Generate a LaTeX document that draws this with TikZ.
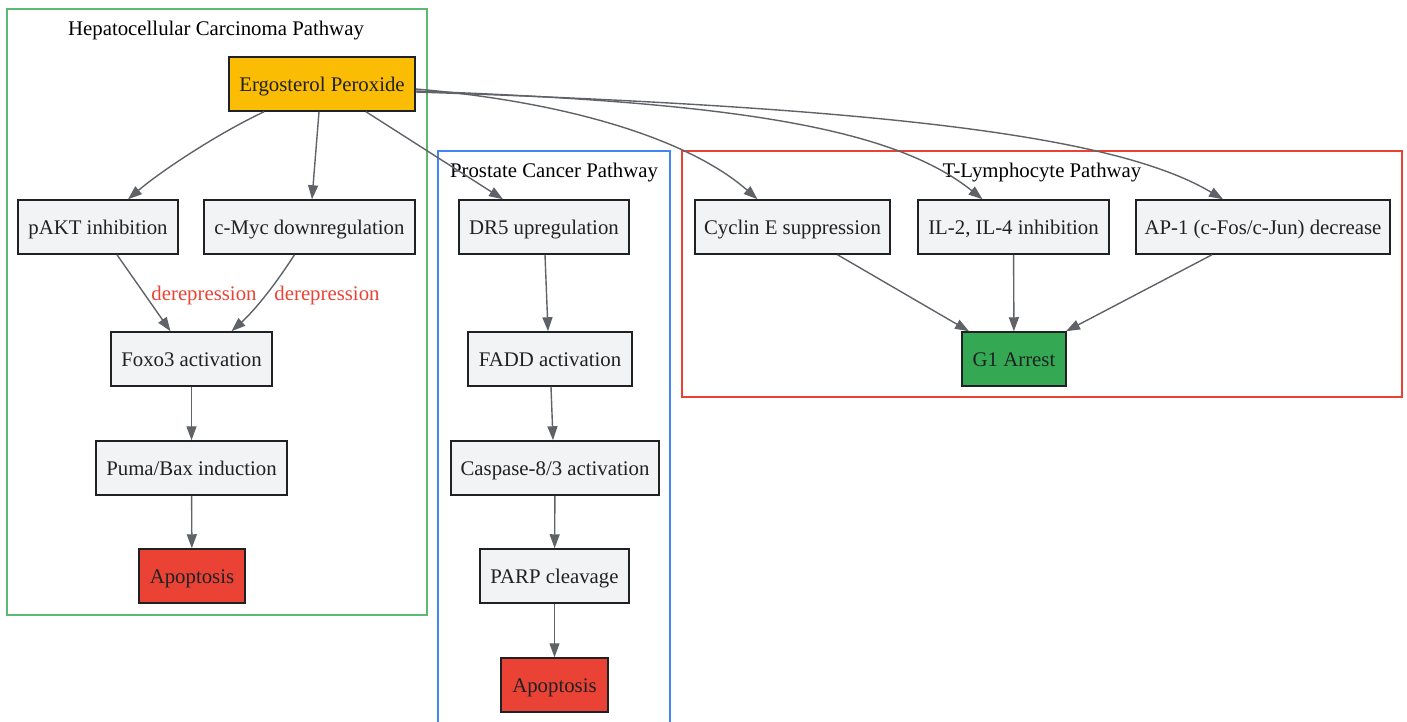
\documentclass[tikz,border=0pt]{standalone}
\usepackage{fontspec}
\setmainfont{Liberation Serif}
\usetikzlibrary{arrows.meta,calc}
\definecolor{edgegray}{HTML}{5F6368}
\definecolor{nodegray}{HTML}{F1F3F4}
\definecolor{gyellow}{HTML}{FBBC04}
\definecolor{gred}{HTML}{EA4335}
\definecolor{ggreen}{HTML}{34A853}
\definecolor{cgreen}{HTML}{5BB974}
\definecolor{gblue}{HTML}{4285F4}
\definecolor{txt}{HTML}{202124}
\tikzset{
  box/.style={draw=txt,line width=1.5pt,fill=nodegray,minimum height=54pt,inner sep=0pt,text=txt,font=\fontsize{20.8}{24}\selectfont,text height=15.4pt,text depth=0pt},
  edge/.style={draw=edgegray,line width=1.4pt,-{Triangle[length=14pt,width=10pt]}},
  elabel/.style={text=gred,font=\fontsize{20.8}{24}\selectfont,text height=15.4pt,text depth=0pt,inner sep=0pt},
  ctitle/.style={text=black,font=\fontsize{20.8}{24}\selectfont,text height=15.4pt,text depth=0pt,inner sep=0pt},
  cluster/.style={line width=1.3pt}
}
\begin{document}
\begin{tikzpicture}[x=1pt,y=-1pt]
\useasboundingbox (0,0) rectangle (1407,721);
% clusters
\draw[cluster,draw=cgreen] (7,9) rectangle (427,615);
\draw[cluster,draw=gblue] (438,151) rectangle (670,735);
\draw[cluster,draw=gred] (682,151) rectangle (1402,397);
\node[ctitle] (t1) at (216,28) {Hepatocellular Carcinoma Pathway};
\node[ctitle] (t2) at (554,170) {Prostate Cancer Pathway};
\node[ctitle] (t3) at (1042,170) {T-Lymphocyte Pathway};
% nodes
\node[box,fill=gyellow,minimum width=186pt] (ep) at (322,84) {Ergosterol Peroxide};
\node[box,minimum width=160pt] (pakt) at (98,227) {pAKT inhibition};
\node[box,minimum width=211pt] (cmyc) at (309.5,227) {c-Myc downregulation};
\node[box,minimum width=161pt] (foxo) at (191.5,359) {Foxo3 activation};
\node[box,minimum width=191pt] (puma) at (191.5,468) {Puma/Bax induction};
\node[box,fill=gred,minimum width=106pt] (apo1) at (192,576) {Apoptosis};
\node[box,minimum width=170pt] (dr5) at (544,227) {DR5 upregulation};
\node[box,minimum width=164pt] (fadd) at (550,359) {FADD activation};
\node[box,minimum width=208pt] (casp) at (555,468) {Caspase-8/3 activation};
\node[box,minimum width=149pt] (parp) at (554.5,576) {PARP cleavage};
\node[box,fill=gred,minimum width=107pt] (apo2) at (554.5,685) {Apoptosis};
\node[box,minimum width=195pt] (cyc) at (792.5,227) {Cyclin E suppression};
\node[box,minimum width=191pt] (il) at (1013.5,227) {IL-2, IL-4 inhibition};
\node[box,minimum width=254pt] (ap1) at (1263,227) {AP-1 (c-Fos/c-Jun) decrease};
\node[box,fill=ggreen,minimum width=104pt] (g1) at (1014,359) {G1 Arrest};
% edges
\draw[edge] ($(ep.south)+(-58,0)$) .. controls (215,135) and (160,172) .. ($(pakt.north)+(30,0)$);
\draw[edge] ($(ep.south)+(-3,0)$) -- ($(cmyc.north)+(2.5,0)$);
\draw[edge] ($(ep.south)+(44,0)$) -- ($(dr5.north)+(-41,0)$);
\draw[edge] ($(ep.east)+(0,5)$) .. controls (570,102) and (690,140) .. ($(cyc.north)+(-35,0)$);
\draw[edge] ($(ep.east)+(0,7)$) .. controls (720,102) and (890,125) .. ($(il.north)+(-31,0)$);
\draw[edge] ($(ep.east)+(0,8)$) .. controls (900,108) and (1120,138) .. ($(ap1.north)+(-40,0)$);
\draw[edge] ($(pakt.south)+(19,0)$) -- ($(foxo.north)+(-21,0)$);
\draw[edge] ($(cmyc.south)+(-15,0)$) .. controls (275,285) and (255,310) .. ($(foxo.north)+(40,0)$);
\node[elabel] (l1) at (204,293) {derepression};
\node[elabel] (l2) at (327,293) {derepression};
\draw[edge] (foxo) -- (puma);
\draw[edge] (puma) -- (apo1);
\draw[edge] ($(dr5.south)+(1,0)$) -- ($(fadd.north)+(-2,0)$);
\draw[edge] ($(fadd.south)+(1,0)$) -- ($(casp.north)+(-2,0)$);
\draw[edge] (casp) -- (parp);
\draw[edge] (parp) -- (apo2);
\draw[edge] ($(cyc.south)+(45,0)$) -- ($(g1.north)+(-45,0)$);
\draw[edge] (il) -- (g1);
\draw[edge] ($(ap1.south)+(-51,0)$) -- ($(g1.north)+(52,0)$);
\end{tikzpicture}
\end{document}
